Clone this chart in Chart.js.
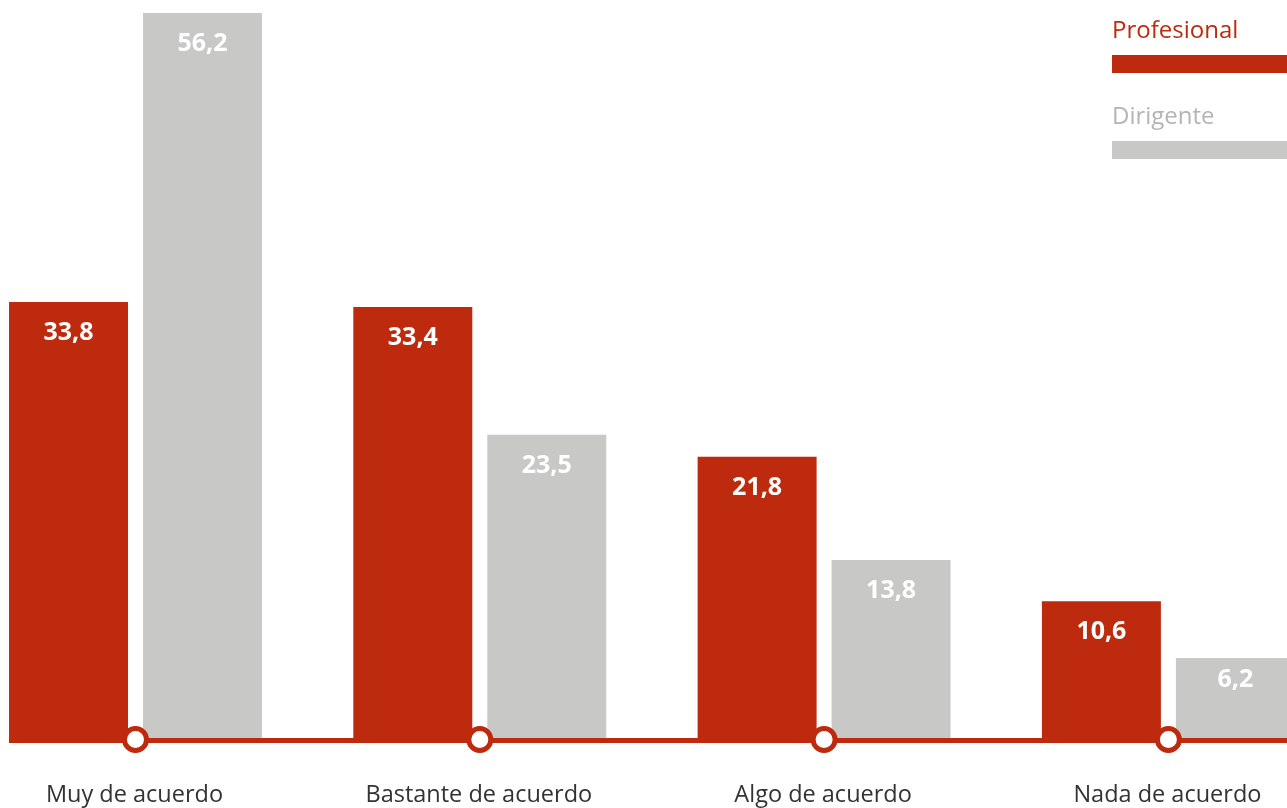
<!DOCTYPE html>
<html lang="es">
<head>
<meta charset="utf-8">
<title>Grado de acuerdo</title>
<script src="https://cdn.jsdelivr.net/npm/chart.js@4/dist/chart.umd.min.js"></script>
<style>
    html, body { margin: 0; padding: 0; background: #ffffff; }
    .wrap { position: relative; width: 1287px; height: 808px; overflow: hidden; }
    #chart-acuerdo { position: absolute; left: 0; top: 0; }
    .leyenda { position: absolute; left: 1112px; top: 0; width: 175px; font-family: "Open Sans", sans-serif; }
    .leyenda-item { position: absolute; left: 0; width: 175px; }
    .leyenda-item span { display: block; font-size: 24px; line-height: 30px; }
    .leyenda-item i { display: block; height: 18px; width: 175px; margin-top: 11px; }
</style>
</head>
<body>
<div class="wrap">
    <canvas id="chart-acuerdo" width="1287" height="808"></canvas>
    <div class="leyenda" id="leyenda"></div>
</div>
<script>
    const categorias = ['Muy de acuerdo', 'Bastante de acuerdo', 'Algo de acuerdo', 'Nada de acuerdo'];
    const profesional = [33.8, 33.4, 21.8, 10.6];
    const dirigente = [56.2, 23.5, 13.8, 6.2];
    const series = ['Profesional', 'Dirigente'];

    const ROJO = '#bd2a0e';
    const GRIS = '#c8c8c6';
    const GRIS_TEXTO = '#b4b4b4';
    const FUENTE = '"Open Sans", sans-serif';

    function fmt(n) {
        return Number(n).toLocaleString('es-ES', { minimumFractionDigits: 1, maximumFractionDigits: 1 });
    }

    // Linea base roja con circulos en cada categoria, etiquetas de categoria y valores dentro de las barras.
    const decoracion = {
        id: 'decoracion',
        afterDatasetsDraw: function (chart) {
            const ctx = chart.ctx;
            const x = chart.scales.x;
            const y = chart.scales.y;
            const base = y.getPixelForValue(0);
            const primera = chart.getDatasetMeta(0).data[0];
            const inicio = primera.x - primera.width / 2;

            ctx.save();

            // valores: bajo el borde superior, algo mas arriba en las barras cortas
            ctx.font = 'bold 25px ' + FUENTE;
            ctx.fillStyle = '#ffffff';
            ctx.textAlign = 'center';
            ctx.textBaseline = 'middle';
            chart.data.datasets.forEach(function (ds, i) {
                chart.getDatasetMeta(i).data.forEach(function (bar, j) {
                    const alto = bar.base - bar.y;
                    ctx.fillText(fmt(ds.data[j]), bar.x, bar.y + Math.min(31, alto * 0.27));
                });
            });

            // linea base
            ctx.strokeStyle = ROJO;
            ctx.lineWidth = 5;
            ctx.beginPath();
            ctx.moveTo(inicio, base + 2.5);
            ctx.lineTo(chart.width, base + 2.5);
            ctx.stroke();

            // circulos
            categorias.forEach(function (c, i) {
                const cx = x.getPixelForValue(i);
                ctx.beginPath();
                ctx.arc(cx, base + 1.5, 11, 0, Math.PI * 2);
                ctx.fillStyle = '#ffffff';
                ctx.fill();
                ctx.lineWidth = 5;
                ctx.strokeStyle = ROJO;
                ctx.stroke();
            });

            // etiquetas de categoria
            ctx.font = '23.5px ' + FUENTE;
            ctx.fillStyle = '#333333';
            ctx.textBaseline = 'alphabetic';
            categorias.forEach(function (c, i) {
                ctx.fillText(c, x.getPixelForValue(i) - 1, 802);
            });

            ctx.restore();
        },
    };

    function renderLeyenda(chart) {
        const root = document.getElementById('leyenda');
        const tops = [14, 100];
        const textos = [ROJO, GRIS_TEXTO];
        root.innerHTML = '';
        chart.data.datasets.forEach(function (ds, i) {
            const item = document.createElement('div');
            item.className = 'leyenda-item';
            item.style.top = tops[i] + 'px';
            const label = document.createElement('span');
            label.textContent = ds.label;
            label.style.color = textos[i];
            const bar = document.createElement('i');
            bar.style.background = ds.backgroundColor;
            item.appendChild(label);
            item.appendChild(bar);
            root.appendChild(item);
        });
    }

    const chart = new Chart(document.getElementById('chart-acuerdo').getContext('2d'), {
        type: 'bar',
        data: {
            labels: categorias,
            datasets: [
                {
                    label: series[0],
                    data: profesional,
                    backgroundColor: ROJO,
                    categoryPercentage: 0.7783,
                    barPercentage: 0.888,
                    clip: false,
                },
                {
                    label: series[1],
                    data: dirigente,
                    backgroundColor: GRIS,
                    categoryPercentage: 0.7783,
                    barPercentage: 0.888,
                    clip: false,
                },
            ],
        },
        options: {
            responsive: false,
            animation: false,
            layout: { padding: { left: 135.5, right: 118.6, top: 0, bottom: 70 } },
            plugins: {
                legend: { display: false },
                tooltip: { enabled: false },
            },
            scales: {
                x: { display: false, offset: false },
                y: { display: false, min: 0, max: 57.2 },
            },
        },
        plugins: [decoracion],
    });

    renderLeyenda(chart);
</script>
</body>
</html>
